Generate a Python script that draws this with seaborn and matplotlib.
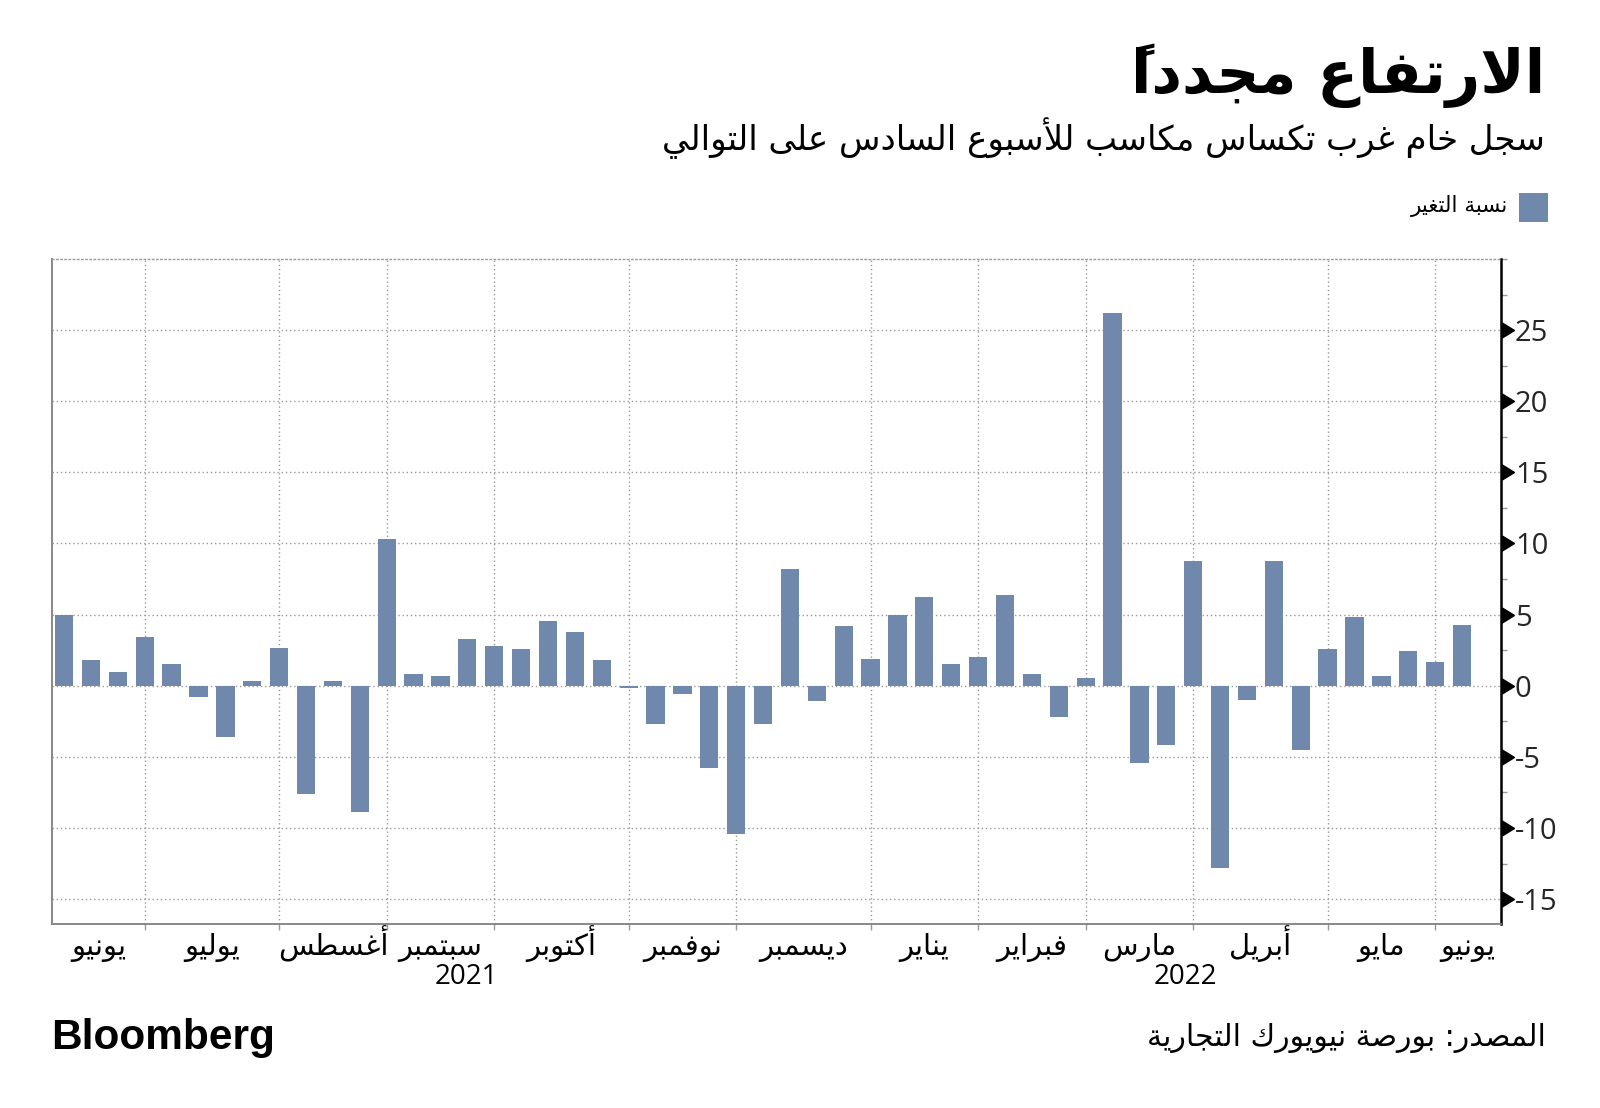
import numpy as np
import pandas as pd
import seaborn as sns
import matplotlib.pyplot as plt
from matplotlib.patches import Rectangle
from matplotlib.ticker import FixedLocator, MultipleLocator, NullFormatter

# 数据：每周变化（%）
weeks = list(range(53))
change = [5.0, 1.8, 1.0, 3.4, 1.55, -0.8, -3.6, 0.35, 2.65, -7.6,
          0.3, -8.9, 10.3, 0.8, 0.65, 3.3, 2.8, 2.55, 4.55, 3.75,
          1.8, -0.15, -2.7, -0.55, -5.8, -10.45, -2.7, 8.2, -1.1, 4.2,
          1.9, 4.95, 6.25, 1.55, 2.0, 6.35, 0.8, -2.2, 0.55, 26.2,
          -5.45, -4.15, 8.8, -12.8, -1.0, 8.8, -4.55, 2.55, 4.8, 0.65,
          2.45, 1.65, 4.3]
months = ['يونيو', 'يوليو', 'أغسطس', 'سبتمبر', 'أكتوبر', 'نوفمبر', 'ديسمبر',
          'يناير', 'فبراير', 'مارس', 'أبريل', 'مايو', 'يونيو']
weeks_per_month = [3, 5, 4, 4, 5, 4, 5, 4, 4, 4, 5, 4, 2]
years = ['2021', '2022']
y_ticks = [-15, -10, -5, 0, 5, 10, 15, 20, 25]

title = 'الارتفاع مجدداً'
subtitle = 'سجل خام غرب تكساس مكاسب للأسبوع السادس على التوالي'
legend_label = 'نسبة التغير'
source = 'المصدر: بورصة نيويورك التجارية'

bar_color = '#7088ab'
grid_color = '#9a9a9a'

# matplotlib 不做阿拉伯文连写，这里手动转成显示形式并反转
ARABIC_FORMS = {
    'ء': (0xFE80, 1), 'آ': (0xFE81, 2), 'أ': (0xFE83, 2), 'ؤ': (0xFE85, 2),
    'إ': (0xFE87, 2), 'ئ': (0xFE89, 4), 'ا': (0xFE8D, 2), 'ب': (0xFE8F, 4),
    'ة': (0xFE93, 2), 'ت': (0xFE95, 4), 'ث': (0xFE99, 4), 'ج': (0xFE9D, 4),
    'ح': (0xFEA1, 4), 'خ': (0xFEA5, 4), 'د': (0xFEA9, 2), 'ذ': (0xFEAB, 2),
    'ر': (0xFEAD, 2), 'ز': (0xFEAF, 2), 'س': (0xFEB1, 4), 'ش': (0xFEB5, 4),
    'ص': (0xFEB9, 4), 'ض': (0xFEBD, 4), 'ط': (0xFEC1, 4), 'ظ': (0xFEC5, 4),
    'ع': (0xFEC9, 4), 'غ': (0xFECD, 4), 'ف': (0xFED1, 4), 'ق': (0xFED5, 4),
    'ك': (0xFED9, 4), 'ل': (0xFEDD, 4), 'م': (0xFEE1, 4), 'ن': (0xFEE5, 4),
    'ه': (0xFEE9, 4), 'و': (0xFEED, 2), 'ى': (0xFEEF, 2), 'ي': (0xFEF1, 4),
}
LAM_ALEF = {'آ': 0xFEF5, 'أ': 0xFEF7, 'إ': 0xFEF9, 'ا': 0xFEFB}


def ar(text):
    tokens = []
    i = 0
    while i < len(text):
        c = text[i]
        if '\u064B' <= c <= '\u0652' and tokens:
            tokens[-1][2] += c
        elif c == 'ل' and i + 1 < len(text) and text[i + 1] in LAM_ALEF:
            tokens.append([LAM_ALEF[text[i + 1]], 2, ''])
            i += 1
        elif c in ARABIC_FORMS:
            code, n = ARABIC_FORMS[c]
            tokens.append([code, n, ''])
        else:
            tokens.append([c, 0, ''])
        i += 1
    out = []
    for k, (code, n, marks) in enumerate(tokens):
        if n == 0:
            out.append(marks + code)
            continue
        prev_ok = k > 0 and tokens[k - 1][1] == 4 and n > 1
        next_ok = k + 1 < len(tokens) and n == 4 and tokens[k + 1][1] > 1
        if prev_ok and next_ok:
            form = 3
        elif prev_ok:
            form = 1
        elif next_ok:
            form = 2
        else:
            form = 0
        # 符号放在字母前面，零宽度，落在字母上方
        out.append(marks + chr(code + form))
    return ''.join(reversed(out))


sns.set_style('white')
plt.rcParams['font.family'] = ['DejaVu Sans']
num_font = 'Open Sans'

df = pd.DataFrame({'week': weeks, 'change': change})

W, H = 1600, 1108
fig = plt.figure(figsize=(W / 100, H / 100), dpi=100)
ax_bottom, ax_top = 924, 259
ax = fig.add_axes([52 / W, 1 - ax_bottom / H, (1501 - 52) / W, (ax_bottom - ax_top) / H])

sns.barplot(data=df, x='week', y='change', color=bar_color, saturation=1,
            width=0.68, linewidth=0, ax=ax)

x_left, x_right = -0.45, len(weeks) - 1 + 1.45
ax.set_xlim(x_left, x_right)
ax.set_ylim(-16.75, 30)
ax.set_xlabel('')
ax.set_ylabel('')

# 月份分界
bounds = list(np.cumsum(weeks_per_month)[:-1])
edges = [x_left] + bounds + [x_right]
centers = [(edges[k] + edges[k + 1]) / 2 for k in range(len(months))]
ax.xaxis.set_major_locator(FixedLocator(bounds))
ax.xaxis.set_major_formatter(NullFormatter())
ax.tick_params(axis='x', which='major', direction='out', length=4, width=1,
               color=grid_color, bottom=True)

plot_h = ax_bottom - ax_top
for m, xpos in zip(months, centers):
    ax.text(xpos, (ax_bottom - 955) / plot_h, ar(m), transform=ax.get_xaxis_transform(),
            ha='center', va='baseline', fontsize=21, color='black')

# 年份
for yr, xpos in zip(years, [14.95, 41.7]):
    ax.text(xpos, (ax_bottom - 984) / plot_h, yr, transform=ax.get_xaxis_transform(),
            ha='center', va='baseline', fontsize=20, family=num_font, color='black')

# y 轴放右侧
ax.yaxis.tick_right()
ax.yaxis.set_major_locator(FixedLocator(y_ticks))
ax.yaxis.set_minor_locator(MultipleLocator(2.5))
ax.set_yticklabels([str(v) for v in y_ticks], family=num_font, fontsize=21)
ax.tick_params(axis='y', which='major', length=9, width=1, pad=1,
               color='black', right=True, left=False)
ax.tick_params(axis='y', which='minor', length=4, width=1,
               color=grid_color, right=True, left=False)

ax.grid(True, which='major', axis='both', color=grid_color,
        linestyle=(0, (1, 2)), linewidth=1)
ax.set_axisbelow(True)

for side in ['left', 'bottom']:
    ax.spines[side].set_color('#808080')
    ax.spines[side].set_linewidth(1.3)
ax.spines['top'].set_color(grid_color)
ax.spines['top'].set_linestyle((0, (1, 2)))
ax.spines['top'].set_linewidth(1)
ax.spines['right'].set_color('black')
ax.spines['right'].set_linewidth(1.8)

# 主刻度改成三角形
for t in ax.yaxis.get_major_ticks():
    t.tick2line.set_marker(9)
    t.tick2line.set_markersize(12)
    t.tick2line.set_markerfacecolor('black')
    t.tick2line.set_markeredgecolor('black')

# 标题
fig.text(1545 / W, 1 - 93 / H, ar(title), ha='right', va='baseline',
         fontsize=43, fontweight='bold', color='black')
fig.text(1545 / W, 1 - 150 / H, ar(subtitle), ha='right', va='baseline',
         fontsize=24.5, color='black')

# 图例
fig.patches.append(Rectangle((1519 / W, 1 - 222 / H), 29 / W, 29 / H,
                             transform=fig.transFigure, facecolor=bar_color,
                             edgecolor='none'))
fig.text(1508 / W, 1 - 212 / H, ar(legend_label), ha='right', va='baseline',
         fontsize=15.5, color='black')

# 来源
fig.text(51 / W, 1 - 1049 / H, 'Bloomberg', ha='left', va='baseline',
         fontsize=30.5, fontweight='bold', family='Liberation Sans', color='black')
fig.text(1546 / W, 1 - 1046 / H, ar(source), ha='right', va='baseline',
         fontsize=21.5, color='black')

fig.savefig('out.png', dpi=100)
